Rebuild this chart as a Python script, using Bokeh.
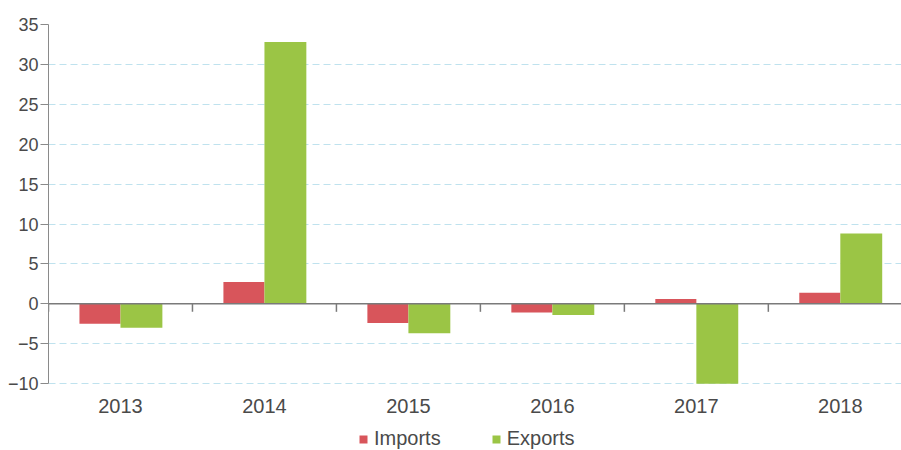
from bokeh.plotting import figure
from bokeh.models import (ColumnDataSource, Range1d, LinearAxis, FixedTicker,
                          Legend, LegendItem, Span)
from bokeh.transform import dodge
from bokeh.embed import file_html
from bokeh.resources import INLINE

years = ["2013", "2014", "2015", "2016", "2017", "2018"]
imports = [-2.5, 2.75, -2.4, -1.1, 0.6, 1.4]
exports = [-3.0, 32.8, -3.7, -1.4, -10.0, 8.8]
y_ticks = [-10, -5, 0, 5, 10, 15, 20, 25, 30, 35]

pos = [i + 0.5 for i in range(len(years))]
bounds = [float(i) for i in range(len(years) + 1)]
src = ColumnDataSource(dict(x=pos, imports=imports, exports=exports))
bsrc = ColumnDataSource(dict(x=bounds, y0=[0] * len(bounds), y1=[-1] * len(bounds)))

FONT = "Liberation Sans"
TXT = "#4a4a4a"
Y_MIN, Y_MAX = -10, 35
PX_PER_UNIT = 8.0
BOTTOM_ROOM = 67  # px below the -10 line for labels and legend

p = figure(frame_width=853, frame_height=426,
           x_range=Range1d(0, 5.925),
           y_range=Range1d(Y_MIN - BOTTOM_ROOM / PX_PER_UNIT, Y_MAX),
           x_axis_location=None, output_backend="svg", toolbar_location=None,
           min_border_left=48, min_border_right=0, min_border_top=24,
           min_border_bottom=0)
p.outline_line_color = None
p.background_fill_color = "white"

r1 = p.vbar(x=dodge("x", -0.1425, range=p.x_range), top="imports", bottom=0,
            width=0.285, source=src, fill_color="#d8555b", line_color=None)
r2 = p.vbar(x=dodge("x", 0.1455, range=p.x_range), top="exports", bottom=0,
            width=0.291, source=src, fill_color="#9bc545", line_color=None)

# y axis
ya = p.yaxis[0]
ya.bounds = (Y_MIN, Y_MAX)
ya.ticker = FixedTicker(ticks=y_ticks)
ya.major_tick_in = 0
ya.major_tick_out = 8
ya.minor_tick_line_color = None
ya.axis_line_color = "#8a8a8a"
ya.major_tick_line_color = "#8a8a8a"
ya.major_label_standoff = 2
ya.major_label_text_font = FONT
ya.major_label_text_font_size = "18px"
ya.major_label_text_color = TXT

p.ygrid.ticker = FixedTicker(ticks=y_ticks)
p.ygrid.grid_line_color = "#bfe2ee"
p.ygrid.grid_line_dash = "7 4"
p.ygrid.grid_line_width = 1
p.xgrid.grid_line_color = None

# zero line with ticks at category boundaries
p.add_layout(Span(location=0, dimension="width", line_color="#7a7a7a",
                  line_width=1.5))
p.segment(x0="x", y0="y0", x1="x", y1="y1", source=bsrc,
          line_color="#7a7a7a", line_width=1.5)

# category label axis, placed at the bottom of the value range
la = LinearAxis(ticker=FixedTicker(ticks=pos), fixed_location=Y_MIN,
                major_label_overrides={x: y for x, y in zip(pos, years)})
la.axis_line_color = None
la.major_tick_line_color = None
la.minor_tick_line_color = None
la.major_tick_in = 0
la.major_tick_out = 0
la.minor_tick_in = 0
la.minor_tick_out = 0
la.major_label_standoff = 15
la.major_label_text_font = FONT
la.major_label_text_font_size = "20px"
la.major_label_text_color = TXT
p.add_layout(la, "below")

legend = Legend(items=[LegendItem(label="Imports", renderers=[r1]),
                       LegendItem(label="Exports", renderers=[r2])],
                orientation="horizontal", location=(310, 0))
legend.glyph_width = 10
legend.glyph_height = 10
legend.label_standoff = 6
legend.spacing = 50
legend.padding = 0
legend.margin = 0
legend.border_line_color = None
legend.background_fill_alpha = 0
legend.label_text_font = FONT
legend.label_text_font_size = "20px"
legend.label_text_color = TXT
p.add_layout(legend, "center")

open("out.html", "w").write(file_html(p, INLINE))
